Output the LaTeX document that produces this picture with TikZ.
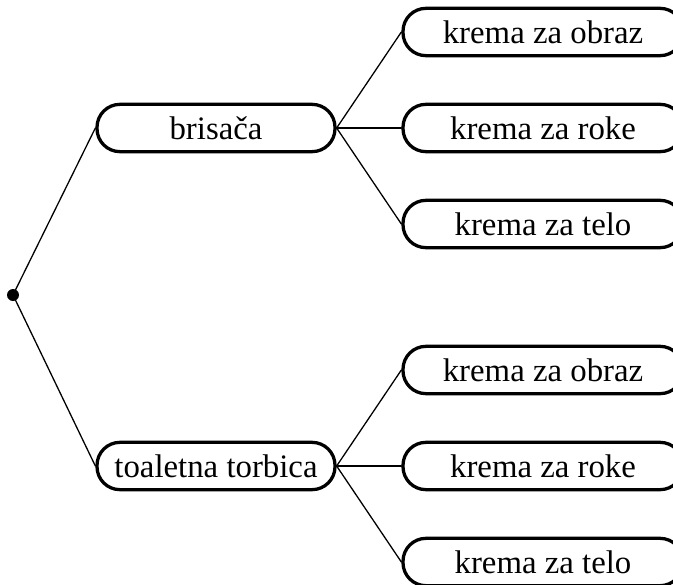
\documentclass[tikz,border=0pt]{standalone}
\usepackage{fontspec}
\setmainfont{Liberation Serif}
\tikzset{
    itembox/.style={draw, line width=2.8pt, rectangle, rounded corners=0.69cm,
        minimum height=1.42cm, inner sep=0pt, font=\fontsize{28}{32}\selectfont},
    branch/.style={line width=1.1pt}
}
\begin{document}
\begin{tikzpicture}[x=0.03cm,y=-0.03cm,cap=round]
        \useasboundingbox (0,0) rectangle (673,584);

        % draw the root point
        \fill[black] (13,295) circle(0.18cm);
        \coordinate (root) at (13,295);

        % draw the two middle boxes
        \node[itembox, minimum width=7.14cm] (bris) at (216,128) {brisača};
        \node[itembox, minimum width=7.14cm] (torb) at (216,466) {toaletna torbica};
        \draw[branch] (root) -- (bris.west);
        \draw[branch] (root) -- (torb.west);

        % draw the boxes on the right
        \foreach \p/\y in {bris/0, torb/338} {
            \foreach \n/\dy/\txt in {obraz/32/krema za obraz, roke/128/krema za roke, telo/224/krema za telo} {
                \node[itembox, minimum width=8.4cm, inner xsep=0pt, text depth=0pt] (\p-\n) at (543,\y+\dy) {\txt\hspace{0.4cm}};
                \draw[branch] (\p.east) -- (\p-\n.west);
            }
        }
\end{tikzpicture}
\end{document}
